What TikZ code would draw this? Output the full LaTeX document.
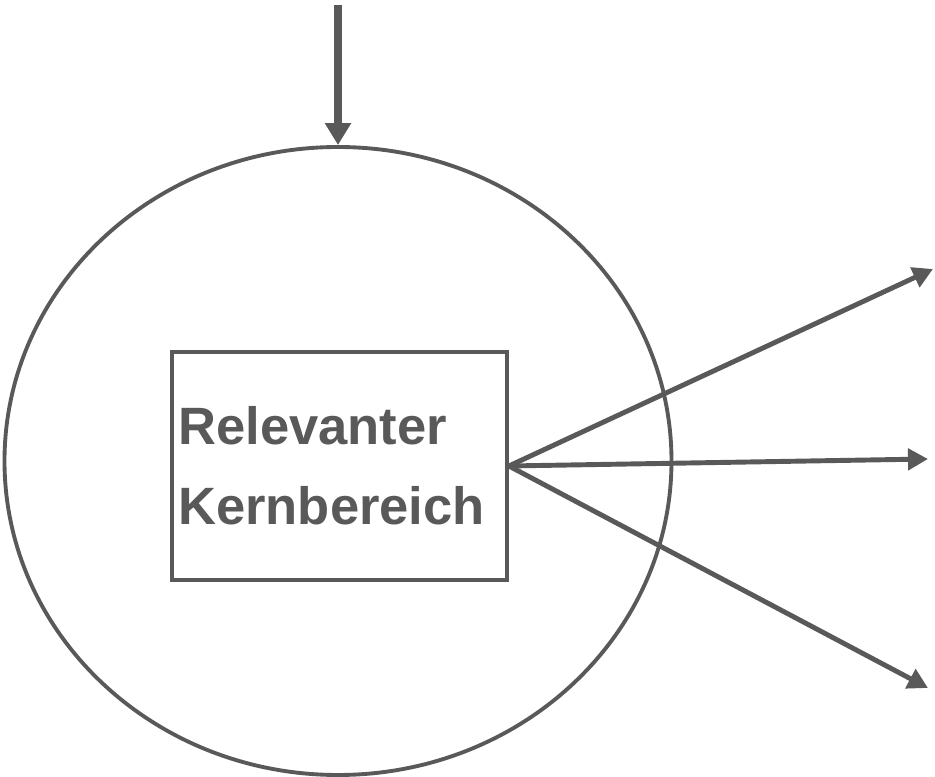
\documentclass[tikz,border=0pt]{standalone}
\usepackage{fontspec}
\setmainfont{Liberation Sans}
\usetikzlibrary{shapes.geometric,arrows.meta}
\definecolor{slate}{HTML}{595959}

\begin{document}
\begin{tikzpicture}[font=\bfseries\fontsize{29.9}{45.5}\selectfont,
    flow/.style={slate,line width=2.8pt,-{Triangle[length=0.4cm,width=0.42cm]}},
    feedflow/.style={slate,line width=4.4pt,-{Triangle[length=0.44cm,width=0.5cm]}}]
  \useasboundingbox (0,0) rectangle (18.7,-15.54);
  % outer zone with the core box inside
  \node[draw=slate,line width=2.2pt,ellipse,minimum width=13.34cm,minimum height=12.56cm]
        (zone) at (6.76,-9.22) {};
  \node[draw=slate,line width=2.2pt,minimum width=6.7cm,minimum height=4.56cm,
        text width=6.45cm,align=left,inner xsep=0.12cm,text=slate]
        (core) at (6.79,-9.32) {Relevanter\\Kernbereich};
  % input from above
  \coordinate (feed) at (6.76,-0.1);
  \draw[feedflow] (feed) -- (zone.north);
  % three outputs fanning to the right
  \coordinate (outa) at (18.66,-5.38);
  \coordinate (outb) at (18.56,-9.18);
  \coordinate (outc) at (18.56,-13.76);
  \draw[flow] (core.east) -- (outa);
  \draw[flow] (core.east) -- (outb);
  \draw[flow] (core.east) -- (outc);
\end{tikzpicture}
\end{document}
